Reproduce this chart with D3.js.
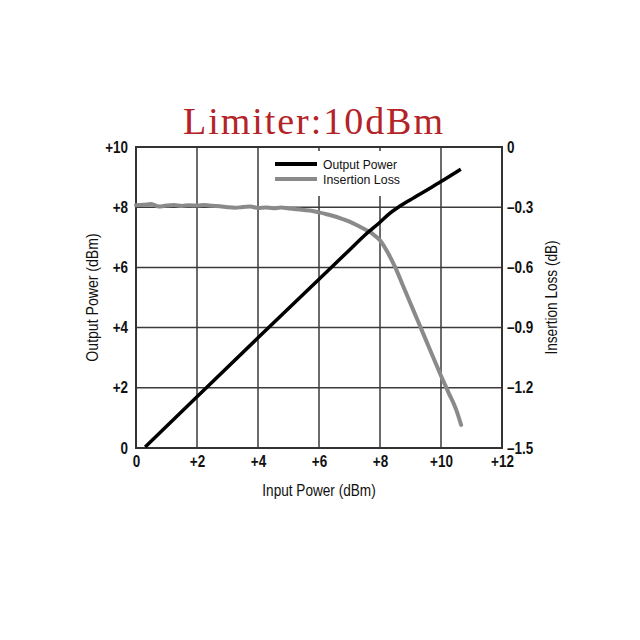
<!DOCTYPE html>
<html lang="en">
<head>
    <meta charset="UTF-8">
    <title>Limiter:10dBm</title>
    <script src="https://d3js.org/d3.v7.min.js"></script>
    <style>
        body {
            margin: 0;
            background: #ffffff;
        }
        svg text {
            font-family: 'Liberation Sans', Arial, sans-serif;
            fill: #111;
        }
    </style>
</head>
<body>
    <svg id="chart" width="640" height="640"></svg>

    <script>
        // Output power vs input power (dBm)
        const inputPower = [0.3, 2, 4, 6, 7, 7.5, 8, 8.3, 8.6, 9, 9.5, 10, 10.65];
        const outputPower = [0.03, 1.7, 3.66, 5.61, 6.58, 7.07, 7.5, 7.78, 8.0, 8.25, 8.55, 8.85, 9.26];

        // Insertion loss vs input power (dB)
        const lossInput = [0, 0.25, 0.5, 0.75, 1, 1.25, 1.5, 1.75, 2, 2.25, 2.5, 2.75, 3, 3.25, 3.5, 3.75,
            4, 4.25, 4.5, 4.75, 5, 5.25, 5.5, 5.75, 6, 6.25, 6.5, 6.75, 7, 7.25, 7.5, 7.75,
            8, 8.25, 8.5, 8.75, 9, 9.25, 9.5, 9.75, 10, 10.25, 10.5, 10.66];
        const insertionLoss = [-0.29, -0.288, -0.284, -0.297, -0.292, -0.289, -0.294, -0.29, -0.292, -0.289, -0.293, -0.295,
            -0.3, -0.303, -0.299, -0.297, -0.304, -0.301, -0.305, -0.302, -0.306, -0.31, -0.314, -0.318,
            -0.326, -0.335, -0.345, -0.358, -0.372, -0.39, -0.41, -0.432, -0.465, -0.525, -0.6, -0.69,
            -0.78, -0.87, -0.96, -1.05, -1.14, -1.225, -1.31, -1.385];

        const xTicks = [0, 2, 4, 6, 8, 10, 12];
        const yTicks = [0, 2, 4, 6, 8, 10];
        const lossTicks = [0, -0.3, -0.6, -0.9, -1.2, -1.5];

        const margin = { top: 147, left: 136 };
        const width = 366;
        const height = 301;

        const svg = d3.select('#chart');

        // squeeze text horizontally, the original uses a condensed face
        function condense(sel, k) {
            sel.each(function () {
                const w = this.getComputedTextLength();
                d3.select(this)
                    .attr('textLength', w * k)
                    .attr('lengthAdjust', 'spacingAndGlyphs');
            });
        }

        // title
        svg.append('text')
            .attr('x', 183)
            .attr('y', 134)
            .attr('textLength', 260)
            .attr('lengthAdjust', 'spacing')
            .style('font-family', "'Liberation Serif', 'DejaVu Serif', serif")
            .style('font-size', '38px')
            .style('fill', '#b42328')
            .text('Limiter:10dBm');

        const g = svg.append('g')
            .attr('transform', `translate(${margin.left},${margin.top})`);

        const x = d3.scaleLinear().domain([0, 12]).range([0, width]);
        const y = d3.scaleLinear().domain([0, 10]).range([height, 0]);
        const yLoss = d3.scaleLinear().domain([-1.5, 0]).range([height, 0]);

        const fmt = d => d === 0 ? '0' : '+' + d;

        // grid
        g.append('g')
            .selectAll('line')
            .data(xTicks.slice(1, -1))
            .join('line')
            .attr('x1', d => x(d)).attr('x2', d => x(d))
            .attr('y1', 0).attr('y2', height)
            .attr('stroke', '#3a3a3a')
            .attr('stroke-width', 1.5);

        g.append('g')
            .selectAll('line')
            .data(yTicks.slice(1, -1))
            .join('line')
            .attr('x1', 0).attr('x2', width)
            .attr('y1', d => y(d)).attr('y2', d => y(d))
            .attr('stroke', '#3a3a3a')
            .attr('stroke-width', 1.5);

        // legend box hides the grid behind it
        g.append('rect')
            .attr('x', 127).attr('y', 4)
            .attr('width', 174).attr('height', 45)
            .attr('fill', '#fff');

        // frame
        g.append('rect')
            .attr('width', width).attr('height', height)
            .attr('fill', 'none')
            .attr('stroke', '#333')
            .attr('stroke-width', 2);

        // axes
        const bottom = g.append('g')
            .attr('transform', `translate(0,${height})`)
            .call(d3.axisBottom(x).tickValues(xTicks).tickFormat(fmt).tickSize(0).tickPadding(8));

        const left = g.append('g')
            .call(d3.axisLeft(y).tickValues(yTicks).tickFormat(fmt).tickSize(0).tickPadding(8));

        const right = g.append('g')
            .attr('transform', `translate(${width},0)`)
            .call(d3.axisRight(yLoss).tickValues(lossTicks)
                .tickFormat(d => d === 0 ? '0' : '\u2013' + Math.abs(d).toFixed(1))
                .tickSize(0).tickPadding(5));

        [bottom, left, right].forEach(a => {
            a.select('.domain').remove();
            a.selectAll('text')
                .style('font-size', '16px')
                .style('font-weight', 'bold')
                .attr('fill', '#111')
                .call(condense, 0.84);
        });

        // axis titles
        svg.append('text')
            .attr('x', margin.left + width / 2)
            .attr('y', 496)
            .attr('text-anchor', 'middle')
            .style('font-size', '17px')
            .text('Input Power (dBm)')
            .call(condense, 0.8);

        svg.append('text')
            .attr('transform', `translate(98,${margin.top + height / 2}) rotate(-90)`)
            .attr('text-anchor', 'middle')
            .style('font-size', '16px')
            .text('Output Power (dBm)')
            .call(condense, 0.88);

        svg.append('text')
            .attr('transform', `translate(557,${margin.top + height / 2}) rotate(-90)`)
            .attr('text-anchor', 'middle')
            .style('font-size', '16px')
            .text('Insertion Loss (dB)')
            .call(condense, 0.85);

        // series
        const lossLine = d3.line()
            .x((d, i) => x(lossInput[i]))
            .y(d => yLoss(d))
            .curve(d3.curveMonotoneX);

        g.append('path')
            .datum(insertionLoss)
            .attr('d', lossLine)
            .attr('fill', 'none')
            .attr('stroke', '#8a8a8a')
            .attr('stroke-width', 4)
            .attr('stroke-linecap', 'round');

        const powerLine = d3.line()
            .x((d, i) => x(inputPower[i]))
            .y(d => y(d))
            .curve(d3.curveMonotoneX);

        g.append('path')
            .datum(outputPower)
            .attr('d', powerLine)
            .attr('fill', 'none')
            .attr('stroke', '#000')
            .attr('stroke-width', 3.5);

        // legend
        const legend = [
            { name: 'Output Power', color: '#000', w: 74 },
            { name: 'Insertion Loss', color: '#8a8a8a', w: 77 }
        ];

        const lg = g.append('g').attr('transform', 'translate(139,17)');
        legend.forEach((s, i) => {
            lg.append('line')
                .attr('x1', 0).attr('x2', 42)
                .attr('y1', i * 15).attr('y2', i * 15)
                .attr('stroke', s.color)
                .attr('stroke-width', 4);
            lg.append('text')
                .attr('x', 48)
                .attr('y', i * 15 + 5)
                .attr('textLength', s.w)
                .attr('lengthAdjust', 'spacingAndGlyphs')
                .style('font-size', '13px')
                .text(s.name);
        });
    </script>
</body>
</html>
